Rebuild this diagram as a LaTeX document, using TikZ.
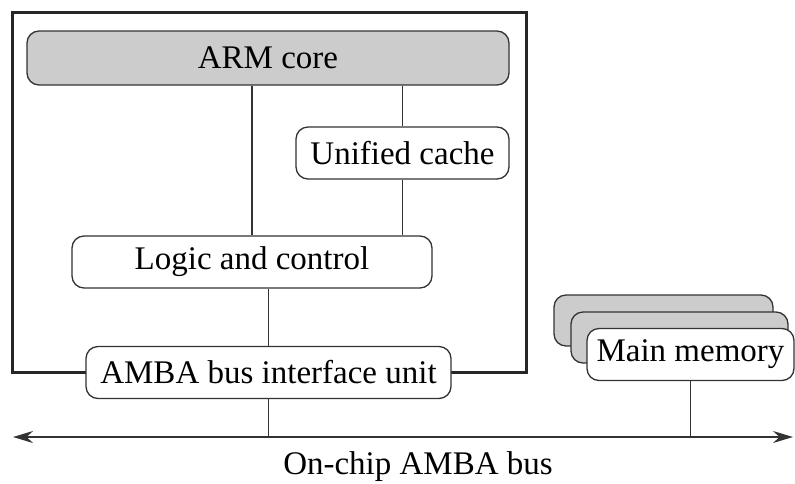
\documentclass[tikz,border=0pt]{standalone}
\usepackage{fontspec}
\setmainfont{Liberation Serif}
\newfontfamily\figfont{Liberation Serif}
\usetikzlibrary{arrows.meta}
\definecolor{coreGray}{HTML}{CCCCCC}
\definecolor{lineGray}{HTML}{333333}
\begin{document}
\begin{tikzpicture}
[x=1pt,y=-1pt,
  font=\figfont\fontsize{33}{36}\selectfont,%
  boxNode/.style={shape=rectangle,rounded corners=12pt,draw=lineGray,line width=1.3pt,fill=white,inner sep=0pt,minimum height=52pt},%
  grayNode/.style={boxNode,fill=coreGray},%
  wireLine/.style={-,line width=1.3pt,color=lineGray},%
  busLine/.style={{Stealth[length=20pt,width=12pt]}-{Stealth[length=20pt,width=12pt]},line width=1.3pt,color=lineGray},%
  chipFrame/.style={line width=3pt,color=black!85}]
\useasboundingbox (0,0) rectangle (795,483);
%% chip outline
\draw[chipFrame] (12,12) rectangle (526,372);
%% memory banks behind
\node (memC) at (663.5,320.5) [grayNode,minimum width=219pt,minimum height=51pt] {};
\node (memB) at (679.5,337.5) [grayNode,minimum width=217pt,minimum height=51pt] {};
%% boxes
\node (arm) at (268,58) [grayNode,minimum width=482pt,minimum height=54pt] {ARM core};
\foreach \nodename/\x/\y/\w/\txt in {cache/402.5/153/213/Unified cache, logic/252/262/360/Logic and control, biu/268.5/372.5/365/AMBA bus interface unit, mem/690.5/354.5/207/Main memory}
{
  \node (\nodename) at (\x,\y) [boxNode,minimum width=\w pt] {\txt};
}
%% bus
\coordinate (busL) at (13,437);
\coordinate (busR) at (793,437);
\draw[busLine] (busL) -- (busR);
\node (busName) at (418,467) {On-chip AMBA bus};
%% wires
\draw[wireLine] (arm.south -| logic.north) -- (logic.north);
\draw[wireLine] (arm.south -| cache.north) -- (cache.north);
\draw[wireLine] (cache.south) -- (cache.south |- logic.north);
\draw[wireLine] (logic.south -| biu.north) -- (biu.north);
\draw[wireLine] (biu.south) -- (biu.south |- busL);
\draw[wireLine] (mem.south) -- (mem.south |- busR);
\end{tikzpicture}
\end{document}
